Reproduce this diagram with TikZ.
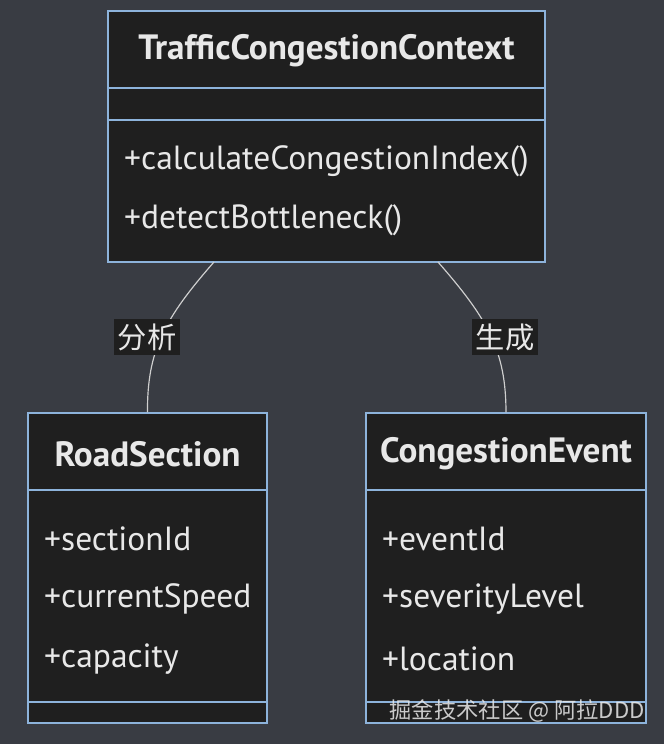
\documentclass[tikz,border=0pt]{standalone}
\usepackage{fontspec}
\setmainfont{PT Sans}
\newfontfamily\cjk{Noto Sans CJK SC}
\usetikzlibrary{positioning}

\definecolor{fundo}{HTML}{393C43}
\definecolor{caixa}{HTML}{1F1F1F}
\definecolor{borda}{HTML}{8DB3DB}
\definecolor{texto}{HTML}{E8E8E8}
\definecolor{linha}{HTML}{CFCFCF}

\tikzset{
	classe/.style={draw=borda, fill=caixa, line width=1pt, inner sep=0pt},
	titulo/.style={text=texto, font=\fontsize{30}{34}\selectfont\bfseries},
	membro/.style={text=texto, anchor=west, inner sep=0pt, font=\fontsize{28.6}{32}\selectfont},
	rotulo/.style={text=texto, fill=caixa, inner xsep=3pt, inner ysep=4pt, font=\cjk\fontsize{25}{28}\selectfont},
}

\begin{document}
\begin{tikzpicture}[x=0.03cm, y=-0.03cm]

	\fill[fundo] (0,0) rectangle (664,744);
	\useasboundingbox (0,0) rectangle (664,744);

	% TrafficCongestionContext
	\node[classe, minimum width=13.11cm, minimum height=7.53cm] (ctx) at (326.5,136.5) {};
	\draw[borda, line width=1pt] (108,88) -- (545,88);
	\draw[borda, line width=1pt] (108,120) -- (545,120);
	\node[titulo] (ctxnome) at (326.5,51) {TrafficCongestionContext};
	\node[membro] (ctxm1) at (124,161) {+calculateCongestionIndex()};
	\node[membro] (ctxm2) at (124,220) {+detectBottleneck()};

	% RoadSection
	\node[classe, minimum width=7.17cm, minimum height=9.3cm] (road) at (147.5,568) {};
	\draw[borda, line width=1pt] (28,490) -- (267,490);
	\draw[borda, line width=1pt] (28,702) -- (267,702);
	\node[titulo] (roadnome) at (147.5,454) {RoadSection};
	\node[membro] (roada1) at (44,539) {+sectionId};
	\node[membro] (roada2) at (44,599) {+currentSpeed};
	\node[membro] (roada3) at (44,659) {+capacity};

	% CongestionEvent
	\node[classe, minimum width=8.4cm, minimum height=9.3cm] (evt) at (506,568) {};
	\draw[borda, line width=1pt] (366,490) -- (646,490);
	\draw[borda, line width=1pt] (366,702) -- (646,702);
	\node[titulo] (evtnome) at (506,454) {CongestionEvent};
	\node[membro] (evta1) at (382,539) {+eventId};
	\node[membro] (evta2) at (382,599) {+severityLevel};
	\node[membro] (evta3) at (382,659) {+location};

	% ligacoes
	\coordinate (ctxesq) at (214,262);
	\coordinate (ctxdir) at (438,262);
	\draw[linha, line width=1pt] (ctxesq) .. controls (165,318) and (147,350) .. (road.north);
	\draw[linha, line width=1pt] (ctxdir) .. controls (487,318) and (506,350) .. (evt.north);
	\node[rotulo] (analisa) at (147,337) {分析};
	\node[rotulo] (gera) at (505,337) {生成};

	% marca d'agua
	\node[text=texto, opacity=0.85, anchor=east, inner sep=0pt, font=\cjk\fontsize{19}{21}\selectfont] (marca) at (645,711) {掘金技术社区 @ 阿拉DDD};

\end{tikzpicture}
\end{document}
